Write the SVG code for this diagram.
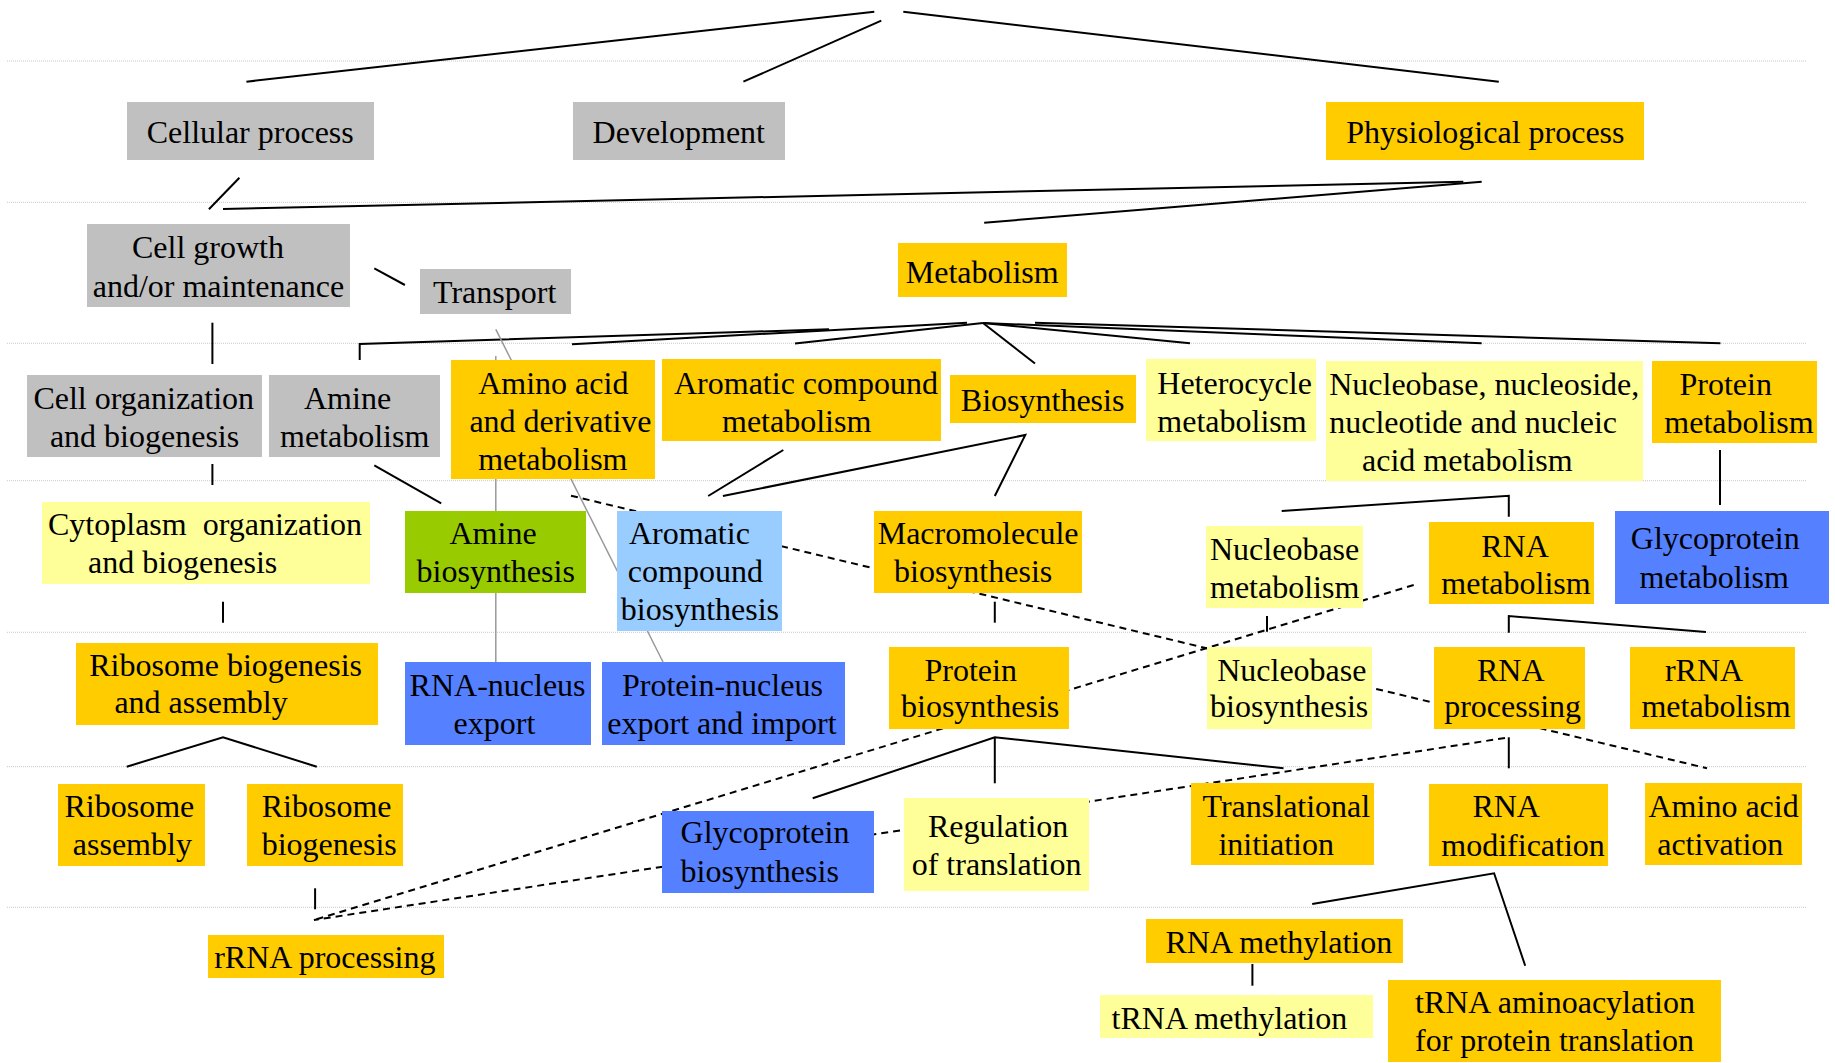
<svg xmlns="http://www.w3.org/2000/svg" width="1835" height="1063" viewBox="0 0 1835 1063">
<style>
.bg{fill:#ffffff}
.guide{stroke:#c8c8c8;stroke-width:1;stroke-dasharray:1 1;fill:none}
.c{stroke:#000;stroke-width:2;fill:none}
.g{stroke:#999999;stroke-width:1.5;fill:none}
.d{stroke:#000;stroke-width:2;fill:none;stroke-dasharray:7 5}
.gray{fill:#c0c0c0}
.org{fill:#ffcc00}
.yel{fill:#ffff99}
.grn{fill:#99cc00}
.lbl{fill:#99ccff}
.blu{fill:#5580ff}
text{font-family:"Liberation Serif","Times New Roman",serif;font-size:32px;fill:#000;white-space:pre;transform:translate(0px,1.5px)}
</style>
<rect class="bg" x="0" y="0" width="1835" height="1063"/>
<g id="guides">
<line class="guide" x1="7" y1="61" x2="1807" y2="61"/>
<line class="guide" x1="7" y1="202.3" x2="1807" y2="202.3"/>
<line class="guide" x1="7" y1="343.3" x2="1807" y2="343.3"/>
<line class="guide" x1="7" y1="480.7" x2="1807" y2="480.7"/>
<line class="guide" x1="7" y1="632.3" x2="1807" y2="632.3"/>
<line class="guide" x1="7" y1="766.7" x2="1807" y2="766.7"/>
<line class="guide" x1="7" y1="907.3" x2="1807" y2="907.3"/>
</g>
<g id="connectors">
<line class="c" x1="246.4" y1="81.7" x2="874.3" y2="11.7"/>
<line class="c" x1="743.4" y1="81.7" x2="881.3" y2="20.7"/>
<line class="c" x1="903.3" y1="11.7" x2="1498.8" y2="81.7"/>
<line class="c" x1="239.4" y1="177.7" x2="208.9" y2="209.3"/>
<line class="c" x1="1463.3" y1="181.7" x2="223" y2="209"/>
<line class="c" x1="1481.7" y1="181.7" x2="984.2" y2="222.7"/>
<line class="c" x1="374.3" y1="268.3" x2="404.9" y2="285"/>
<line class="c" x1="212.4" y1="322.7" x2="212.4" y2="364"/>
<line class="c" x1="212.4" y1="464" x2="212.4" y2="485"/>
<line class="c" x1="223" y1="601.7" x2="223" y2="622.7"/>
<polyline class="c" points="359.7,360 359.7,344 829,329.3"/>
<line class="c" x1="572" y1="344.3" x2="967" y2="322.7"/>
<line class="c" x1="795" y1="343.5" x2="983" y2="323"/>
<line class="c" x1="983" y1="323" x2="1035" y2="363.5"/>
<line class="c" x1="983" y1="323" x2="1190" y2="343.3"/>
<line class="c" x1="983" y1="323" x2="1481.6" y2="343.3"/>
<line class="c" x1="1035" y1="322.7" x2="1720.4" y2="343.3"/>
<line class="c" x1="374.3" y1="465.3" x2="441.2" y2="503.3"/>
<line class="g" x1="495.8" y1="356" x2="495.8" y2="662"/>
<line class="g" x1="495.8" y1="329.3" x2="663" y2="662"/>
<line class="d" x1="571" y1="495.7" x2="1707" y2="768.3"/>
<line class="c" x1="783.3" y1="450" x2="708.2" y2="496"/>
<polyline class="c" points="722.9,496 1025.3,435 994.8,496"/>
<polyline class="c" points="1281.7,511 1508.8,495.7 1508.8,516.7"/>
<line class="c" x1="1720" y1="450" x2="1720" y2="505"/>
<line class="c" x1="1267" y1="616" x2="1267" y2="631.7"/>
<line class="c" x1="994.8" y1="601.7" x2="994.8" y2="622.7"/>
<polyline class="c" points="1508.8,632.7 1508.8,616 1706,632"/>
<line class="d" x1="1413.7" y1="585" x2="313.9" y2="920"/>
<line class="d" x1="1505" y1="738" x2="313.9" y2="920"/>
<polyline class="c" points="812.7,798.3 994.8,737.3 1283.5,768.3"/>
<line class="c" x1="994.8" y1="737.3" x2="994.8" y2="783.3"/>
<line class="c" x1="1508.8" y1="737.3" x2="1508.8" y2="768.3"/>
<polyline class="c" points="1312.2,904 1494.1,873.3 1525.2,965.7"/>
<line class="c" x1="1252.4" y1="964" x2="1252.4" y2="985.7"/>
<polyline class="c" points="126.7,766.7 223,737.3 316.8,766.7"/>
<line class="c" x1="315.1" y1="888.3" x2="315.1" y2="909.3"/>
</g>
<g id="cellular-process"><rect class="gray" x="127" y="102" width="247" height="58"/><text x="146.7" y="141.7">Cellular process</text></g>
<g id="development"><rect class="gray" x="573" y="102" width="212" height="58"/><text x="592.6" y="141.7">Development</text></g>
<g id="physiological-process"><rect class="org" x="1326" y="102" width="318" height="58"/><text x="1346.3" y="141.7">Physiological process</text></g>
<g id="cell-growth"><rect class="gray" x="87" y="224" width="263" height="83"/><text x="132" y="256.7">Cell growth</text><text x="92.7" y="295">and/or maintenance</text></g>
<g id="transport"><rect class="gray" x="420" y="269" width="151" height="45"/><text x="433" y="301.7">Transport</text></g>
<g id="metabolism"><rect class="org" x="898" y="243" width="169" height="54"/><text x="905.8" y="281">Metabolism</text></g>
<g id="cell-organization"><rect class="gray" x="27" y="375" width="235" height="82"/><text x="33.4" y="407.7">Cell organization</text><text x="49.9" y="445">and biogenesis</text></g>
<g id="amine-metabolism"><rect class="gray" x="269" y="375" width="171" height="82"/><text x="304" y="407.7">Amine</text><text x="280" y="445">metabolism</text></g>
<g id="amino-acid-metabolism"><rect class="org" x="451" y="360" width="204" height="119"/><text x="478.2" y="392.3">Amino acid</text><text x="469.4" y="430">and derivative</text><text x="478.2" y="468.3">metabolism</text></g>
<g id="aromatic-compound-metabolism"><rect class="org" x="662" y="359" width="279" height="82"/><text x="674" y="392.3">Aromatic compound</text><text x="722" y="430">metabolism</text></g>
<g id="biosynthesis"><rect class="org" x="950" y="375" width="186" height="48"/><text x="960.8" y="409">Biosynthesis</text></g>
<g id="heterocycle-metabolism"><rect class="yel" x="1146" y="359" width="170" height="82"/><text x="1157.3" y="392.3">Heterocycle</text><text x="1157.3" y="430">metabolism</text></g>
<g id="nucleic-acid-metabolism"><rect class="yel" x="1326" y="361" width="317" height="120"/><text x="1329.2" y="393.3">Nucleobase, nucleoside,</text><text x="1329.2" y="431.7">nucleotide and nucleic</text><text x="1362" y="469.3">acid metabolism</text></g>
<g id="protein-metabolism"><rect class="org" x="1652" y="361" width="165" height="82"/><text x="1679.5" y="393.3">Protein</text><text x="1664.3" y="431.7">metabolism</text></g>
<g id="cytoplasm-organization"><rect class="yel" x="42" y="502" width="328" height="82"/><text x="48" y="533.3">Cytoplasm  organization</text><text x="88" y="571">and biogenesis</text></g>
<g id="amine-biosynthesis"><rect class="grn" x="405" y="511" width="181" height="82"/><text x="449.5" y="542.3">Amine</text><text x="416.6" y="580">biosynthesis</text></g>
<g id="aromatic-compound-biosynthesis"><rect class="lbl" x="617" y="511" width="165" height="120"/><text x="629" y="542.3">Aromatic</text><text x="627.8" y="580">compound</text><text x="620.8" y="618.3">biosynthesis</text></g>
<g id="macromolecule-biosynthesis"><rect class="org" x="874" y="511" width="208" height="82"/><text x="877.7" y="542.3">Macromolecule</text><text x="894" y="580">biosynthesis</text></g>
<g id="nucleobase-metabolism"><rect class="yel" x="1206" y="526" width="157" height="82"/><text x="1210" y="558.3">Nucleobase</text><text x="1210" y="596">metabolism</text></g>
<g id="rna-metabolism"><rect class="org" x="1429" y="522" width="165" height="82"/><text x="1481.2" y="555">RNA</text><text x="1441.3" y="592.7">metabolism</text></g>
<g id="glycoprotein-metabolism"><rect class="blu" x="1615" y="511" width="214" height="93"/><text x="1630.8" y="547.7">Glycoprotein</text><text x="1639.6" y="586.7">metabolism</text></g>
<g id="ribosome-biogenesis-assembly"><rect class="org" x="76" y="643" width="302" height="82"/><text x="89.2" y="674.3">Ribosome biogenesis</text><text x="114.4" y="711.7">and assembly</text></g>
<g id="rna-nucleus-export"><rect class="blu" x="405" y="662" width="186" height="83"/><text x="409.6" y="694.3">RNA-nucleus</text><text x="453.6" y="732.7">export</text></g>
<g id="protein-nucleus-export"><rect class="blu" x="602" y="662" width="243" height="83"/><text x="622" y="694.3">Protein-nucleus</text><text x="607.3" y="732.7">export and import</text></g>
<g id="protein-biosynthesis"><rect class="org" x="889" y="647" width="180" height="82"/><text x="924.5" y="679.3">Protein</text><text x="901" y="715.7">biosynthesis</text></g>
<g id="nucleobase-biosynthesis"><rect class="yel" x="1207" y="647" width="165" height="82"/><text x="1217.2" y="679.3">Nucleobase</text><text x="1210" y="715.7">biosynthesis</text></g>
<g id="rna-processing"><rect class="org" x="1434" y="647" width="151" height="82"/><text x="1477" y="679.3">RNA</text><text x="1444.2" y="715.7">processing</text></g>
<g id="rrna-metabolism"><rect class="org" x="1630" y="647" width="165" height="82"/><text x="1664.9" y="679.3">rRNA</text><text x="1641.4" y="715.7">metabolism</text></g>
<g id="ribosome-assembly"><rect class="org" x="58" y="784" width="147" height="82"/><text x="64.5" y="815">Ribosome</text><text x="72.8" y="853.3">assembly</text></g>
<g id="ribosome-biogenesis"><rect class="org" x="247" y="784" width="156" height="82"/><text x="261.7" y="815">Ribosome</text><text x="261.7" y="853.3">biogenesis</text></g>
<g id="glycoprotein-biosynthesis"><rect class="blu" x="662" y="811" width="212" height="82"/><text x="680.6" y="841.7">Glycoprotein</text><text x="680.6" y="880">biosynthesis</text></g>
<g id="regulation-of-translation"><rect class="yel" x="904" y="798" width="185" height="93"/><text x="927.9" y="835">Regulation</text><text x="911.7" y="873.3">of translation</text></g>
<g id="translational-initiation"><rect class="org" x="1191" y="783" width="183" height="82"/><text x="1202.5" y="815">Translational</text><text x="1218.4" y="853.3">initiation</text></g>
<g id="rna-modification"><rect class="org" x="1429" y="784" width="179" height="82"/><text x="1472.4" y="815">RNA</text><text x="1441.3" y="854">modification</text></g>
<g id="amino-acid-activation"><rect class="org" x="1645" y="783" width="157" height="82"/><text x="1648.5" y="815">Amino acid</text><text x="1657.2" y="853.3">activation</text></g>
<g id="rrna-processing"><rect class="org" x="208" y="935" width="236" height="43"/><text x="214.2" y="966.7">rRNA processing</text></g>
<g id="rna-methylation"><rect class="org" x="1146" y="919" width="257" height="44"/><text x="1165.5" y="951.7">RNA methylation</text></g>
<g id="trna-methylation"><rect class="yel" x="1100" y="995" width="273" height="43"/><text x="1111.6" y="1027.3">tRNA methylation</text></g>
<g id="trna-aminoacylation"><rect class="org" x="1388" y="980" width="333" height="82"/><text x="1415" y="1011.7">tRNA aminoacylation</text><text x="1415" y="1049.3">for protein translation</text></g>
</svg>
